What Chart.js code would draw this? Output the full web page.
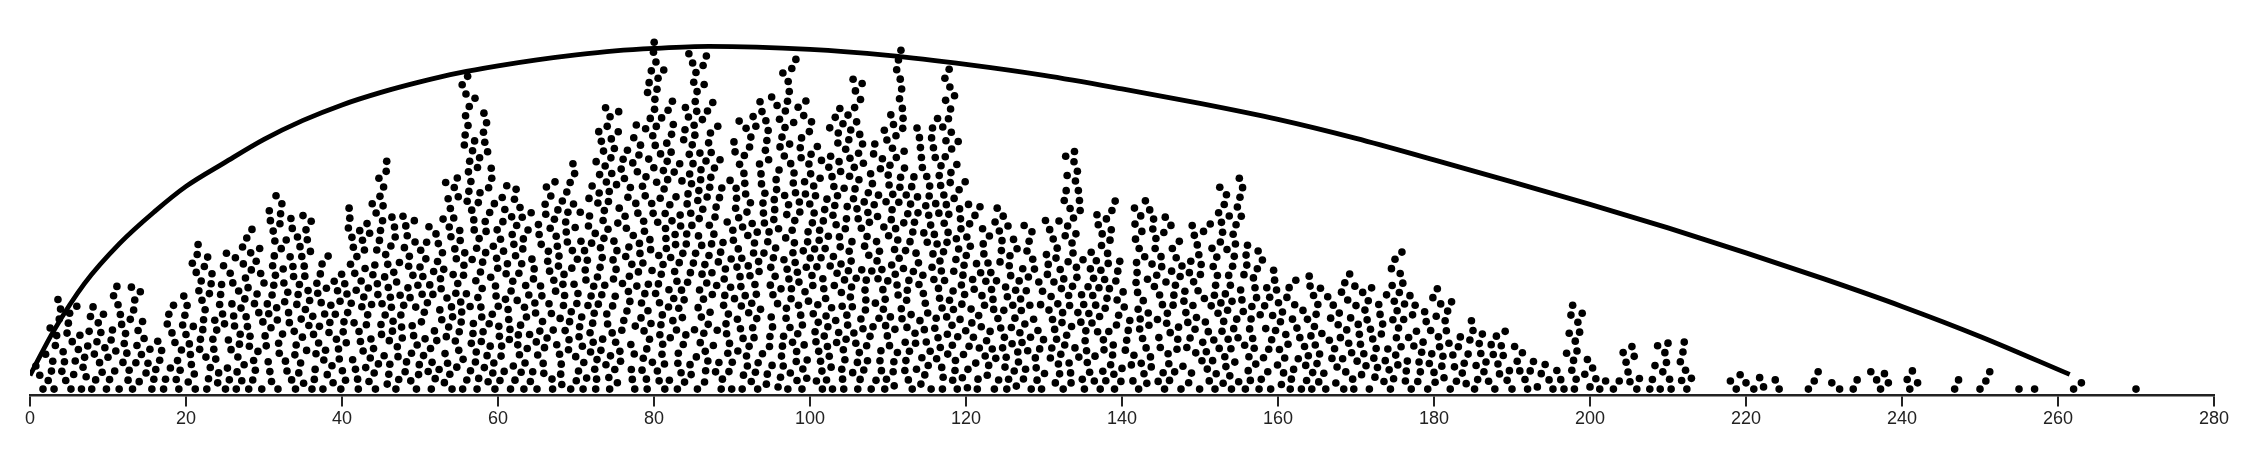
<!DOCTYPE html>
<html>
<head>
<meta charset="utf-8">
<script src="https://cdn.jsdelivr.net/npm/chart.js@4.4.1/dist/chart.umd.min.js"></script>
<style>
  html, body { margin: 0; padding: 0; background: #fff; }
  #wrap { width: 2252px; height: 450px; }
</style>
</head>
<body>
<div id="wrap"><canvas id="swarm" width="2252" height="450"></canvas></div>
<script>
// dot counts per unit of x, starting at x = 0
const dotCounts = [
    0,  2,  3,  6,  6,  6,  5,  5,  6,  6,   // 0
    5,  7,  6,  7,  7,  4,  4,  4,  5,  6,   // 10
    7,  8, 10,  9,  8,  8,  9, 10, 12,  9,   // 20
    7, 14, 12, 10, 12, 13, 10,  9,  9,  7,   // 30
   10, 11, 11, 12, 12, 15, 15, 11, 11, 11,   // 40
   11, 10, 10, 12, 14, 16, 19, 19, 18, 15,   // 50
   14, 12, 14, 14, 10, 11, 12, 13, 14, 14,   // 60
   14, 11, 15, 18, 19, 18, 12, 16, 15, 20,   // 70
   22, 22, 18, 17, 18, 21, 22, 21, 14, 13,   // 80
   14, 18, 18, 17, 16, 18, 16, 22, 21, 18,   // 90
   18, 17, 17, 17, 20, 20, 20, 19, 13, 16,   // 100
   18, 22, 22, 14, 16, 16, 17, 22, 22, 17,   // 110
   14, 10, 12, 11, 11, 13, 11, 11, 11,  9,   // 120
    8, 11, 13, 16, 16, 11, 10, 12, 13, 12,   // 130
    7,  5, 15, 11, 10, 11, 11, 10,  8, 11,   // 140
   10,  8, 13, 14, 14, 12, 11, 10,  7,  8,   // 150
    8,  7,  7,  5,  9,  9,  4,  6,  7,  8,   // 160
    7,  7,  7,  6,  6, 11,  9,  6,  6,  5,   // 170
    7,  7,  6,  4,  4,  5,  5,  3,  5,  4,   // 180
    3,  3,  3,  2,  2,  2,  2,  3,  9,  3,   // 190
    3,  2,  1,  1,  2,  4,  3,  0,  3,  3,   // 200
    5,  0,  6,  1,  0,  0,  0,  0,  1,  2,   // 210
    1,  1,  2,  0,  2,  0,  0,  0,  1,  2,   // 220
    0,  1,  1,  0,  2,  0,  1,  2,  2,  0,   // 230
    0,  3,  1,  0,  0,  0,  0,  2,  0,  0,   // 240
    1,  2,  0,  0,  0,  1,  0,  1,  0,  0,   // 250
    0,  0,  1,  1,  0,  0,  0,  0,  0,  0,   // 260
    1                                        // 270
];

// fitted curve (height above the axis line)
const curveX = [0, 3, 7, 11.5, 16, 20, 25, 30, 35, 40, 45, 50, 55, 60, 65, 70, 75, 80, 87,
    100, 110, 120, 130, 140, 150, 160, 170, 180, 190, 200, 210, 220, 230, 240, 250, 261.5];
const curveY = [20, 64, 112, 152, 184, 209, 233, 256, 275, 290.5, 303, 313.5, 322.5, 329.5,
    335.5, 340.5, 344.5, 347, 349,
    346, 340, 331, 320, 306.5, 292, 276, 257, 235.5, 213.5, 191, 167.5, 142.5, 116.5, 89, 59, 21];

const xTicks = [0, 20, 40, 60, 80, 100, 120, 140, 160, 180, 200, 220, 240, 260, 280];

const DOT_R = 3.8;
const DOT_GAP = 10;     // centre to centre distance in px
const BASE = 6.3;       // px from axis line to the bottom row of dots

// unpack the counts into one value per dot
const values = [];
dotCounts.forEach((k, i) => {
    for (let j = 0; j < k; j++) values.push(i - 0.5 + (j + 0.5) / k);
});

// =============================================================================
//  DODGE LAYOUT: each dot goes to the lowest spot where it touches nothing
// =============================================================================

// fixed scrambled placing order, so the stacks do not build in neat stripes
function mix(i) {
    let h = Math.imul(i + 1, 0x9e3779b1) >>> 0;
    h ^= h >>> 16;
    h = Math.imul(h, 0x45d9f3b) >>> 0;
    h ^= h >>> 16;
    return h;
}

function dodge(xs, gap) {
    const order = xs.map((_, i) => i);
    order.sort((a, b) => mix(a) - mix(b));

    const cells = new Map();
    const ys = new Array(xs.length);
    for (const i of order) {
        const x = xs[i];
        const c = Math.floor(x / gap);
        const spans = [];
        for (let cc = c - 1; cc <= c + 1; cc++) {
            const list = cells.get(cc);
            if (!list) continue;
            for (const p of list) {
                const dx = x - p.x;
                if (Math.abs(dx) >= gap) continue;
                const h = Math.sqrt(gap * gap - dx * dx);
                spans.push([p.y - h, p.y + h]);
            }
        }
        spans.sort((a, b) => a[0] - b[0]);
        let y = 0;
        for (const [lo, hi] of spans) {
            if (lo > y - 1e-7) break;
            if (hi > y) y = hi;
        }
        ys[i] = y;
        if (!cells.has(c)) cells.set(c, []);
        cells.get(c).push({ x, y });
    }
    return ys;
}

const tickColor = '#222';

const chart = new Chart(document.getElementById('swarm'), {
    type: 'scatter',
    data: {
        datasets: [{
            type: 'line',
            data: curveX.map((x, i) => ({ x, y: curveY[i] })),
            borderColor: '#000',
            borderWidth: 4.8,
            pointRadius: 0,
            fill: false,
            cubicInterpolationMode: 'monotone',
            borderCapStyle: 'butt'
        }, {
            data: [],
            pointRadius: DOT_R,
            pointHoverRadius: DOT_R,
            backgroundColor: '#000',
            borderWidth: 0
        }]
    },
    options: {
        responsive: false,
        animation: false,
        devicePixelRatio: 1,
        layout: { padding: { left: 30, right: 38, top: 10, bottom: 18 } },
        plugins: { legend: { display: false }, tooltip: { enabled: false } },
        scales: {
            x: {
                type: 'linear',
                min: 0,
                max: 280,
                afterBuildTicks: axis => { axis.ticks = xTicks.map(v => ({ value: v })); },
                grid: { drawOnChartArea: false, color: tickColor, lineWidth: 2, tickLength: 11 },
                border: { display: true, color: tickColor, width: 2.5 },
                ticks: {
                    color: '#222',
                    padding: 2,
                    maxRotation: 0,
                    font: { family: "'Liberation Sans', Arial, sans-serif", size: 18 }
                }
            },
            y: { display: false, min: 0, max: 400 }
        }
    }
});

// make one y unit one pixel, then lay the dots out in pixels
const area = chart.chartArea;
chart.options.scales.y.max = area.bottom - area.top;
chart.update();

const xScale = chart.scales.x;
const xsPx = values.map(v => xScale.getPixelForValue(v));
const offsets = dodge(xsPx, DOT_GAP);
chart.data.datasets[1].data = values.map((v, i) => ({ x: v, y: BASE + offsets[i] }));
chart.update();
</script>
</body>
</html>
